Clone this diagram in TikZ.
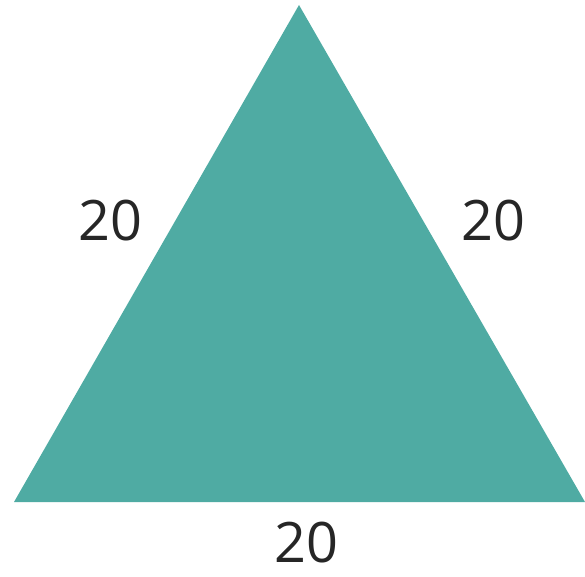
\documentclass[tikz,border=0pt]{standalone}
\usepackage{fontspec}
\setmainfont{Open Sans}
\definecolor{teal1}{HTML}{4FABA3}
\begin{document}
\begin{tikzpicture}[x=1bp,y=-1bp,
  lbl/.style={font=\fontsize{56}{60}\selectfont, text=black!85, inner sep=0pt}]
\useasboundingbox (0,0) rectangle (585,577);
\coordinate (A) at (299,5);
\coordinate (B) at (14,502);
\coordinate (C) at (585,502);
\fill[teal1] (A) -- (B) -- (C) -- cycle;
\node[lbl] (l1) at (110,221) {20};
\node[lbl] (l2) at (493,221) {20};
\node[lbl] (l3) at (306,543) {20};
\end{tikzpicture}
\end{document}
